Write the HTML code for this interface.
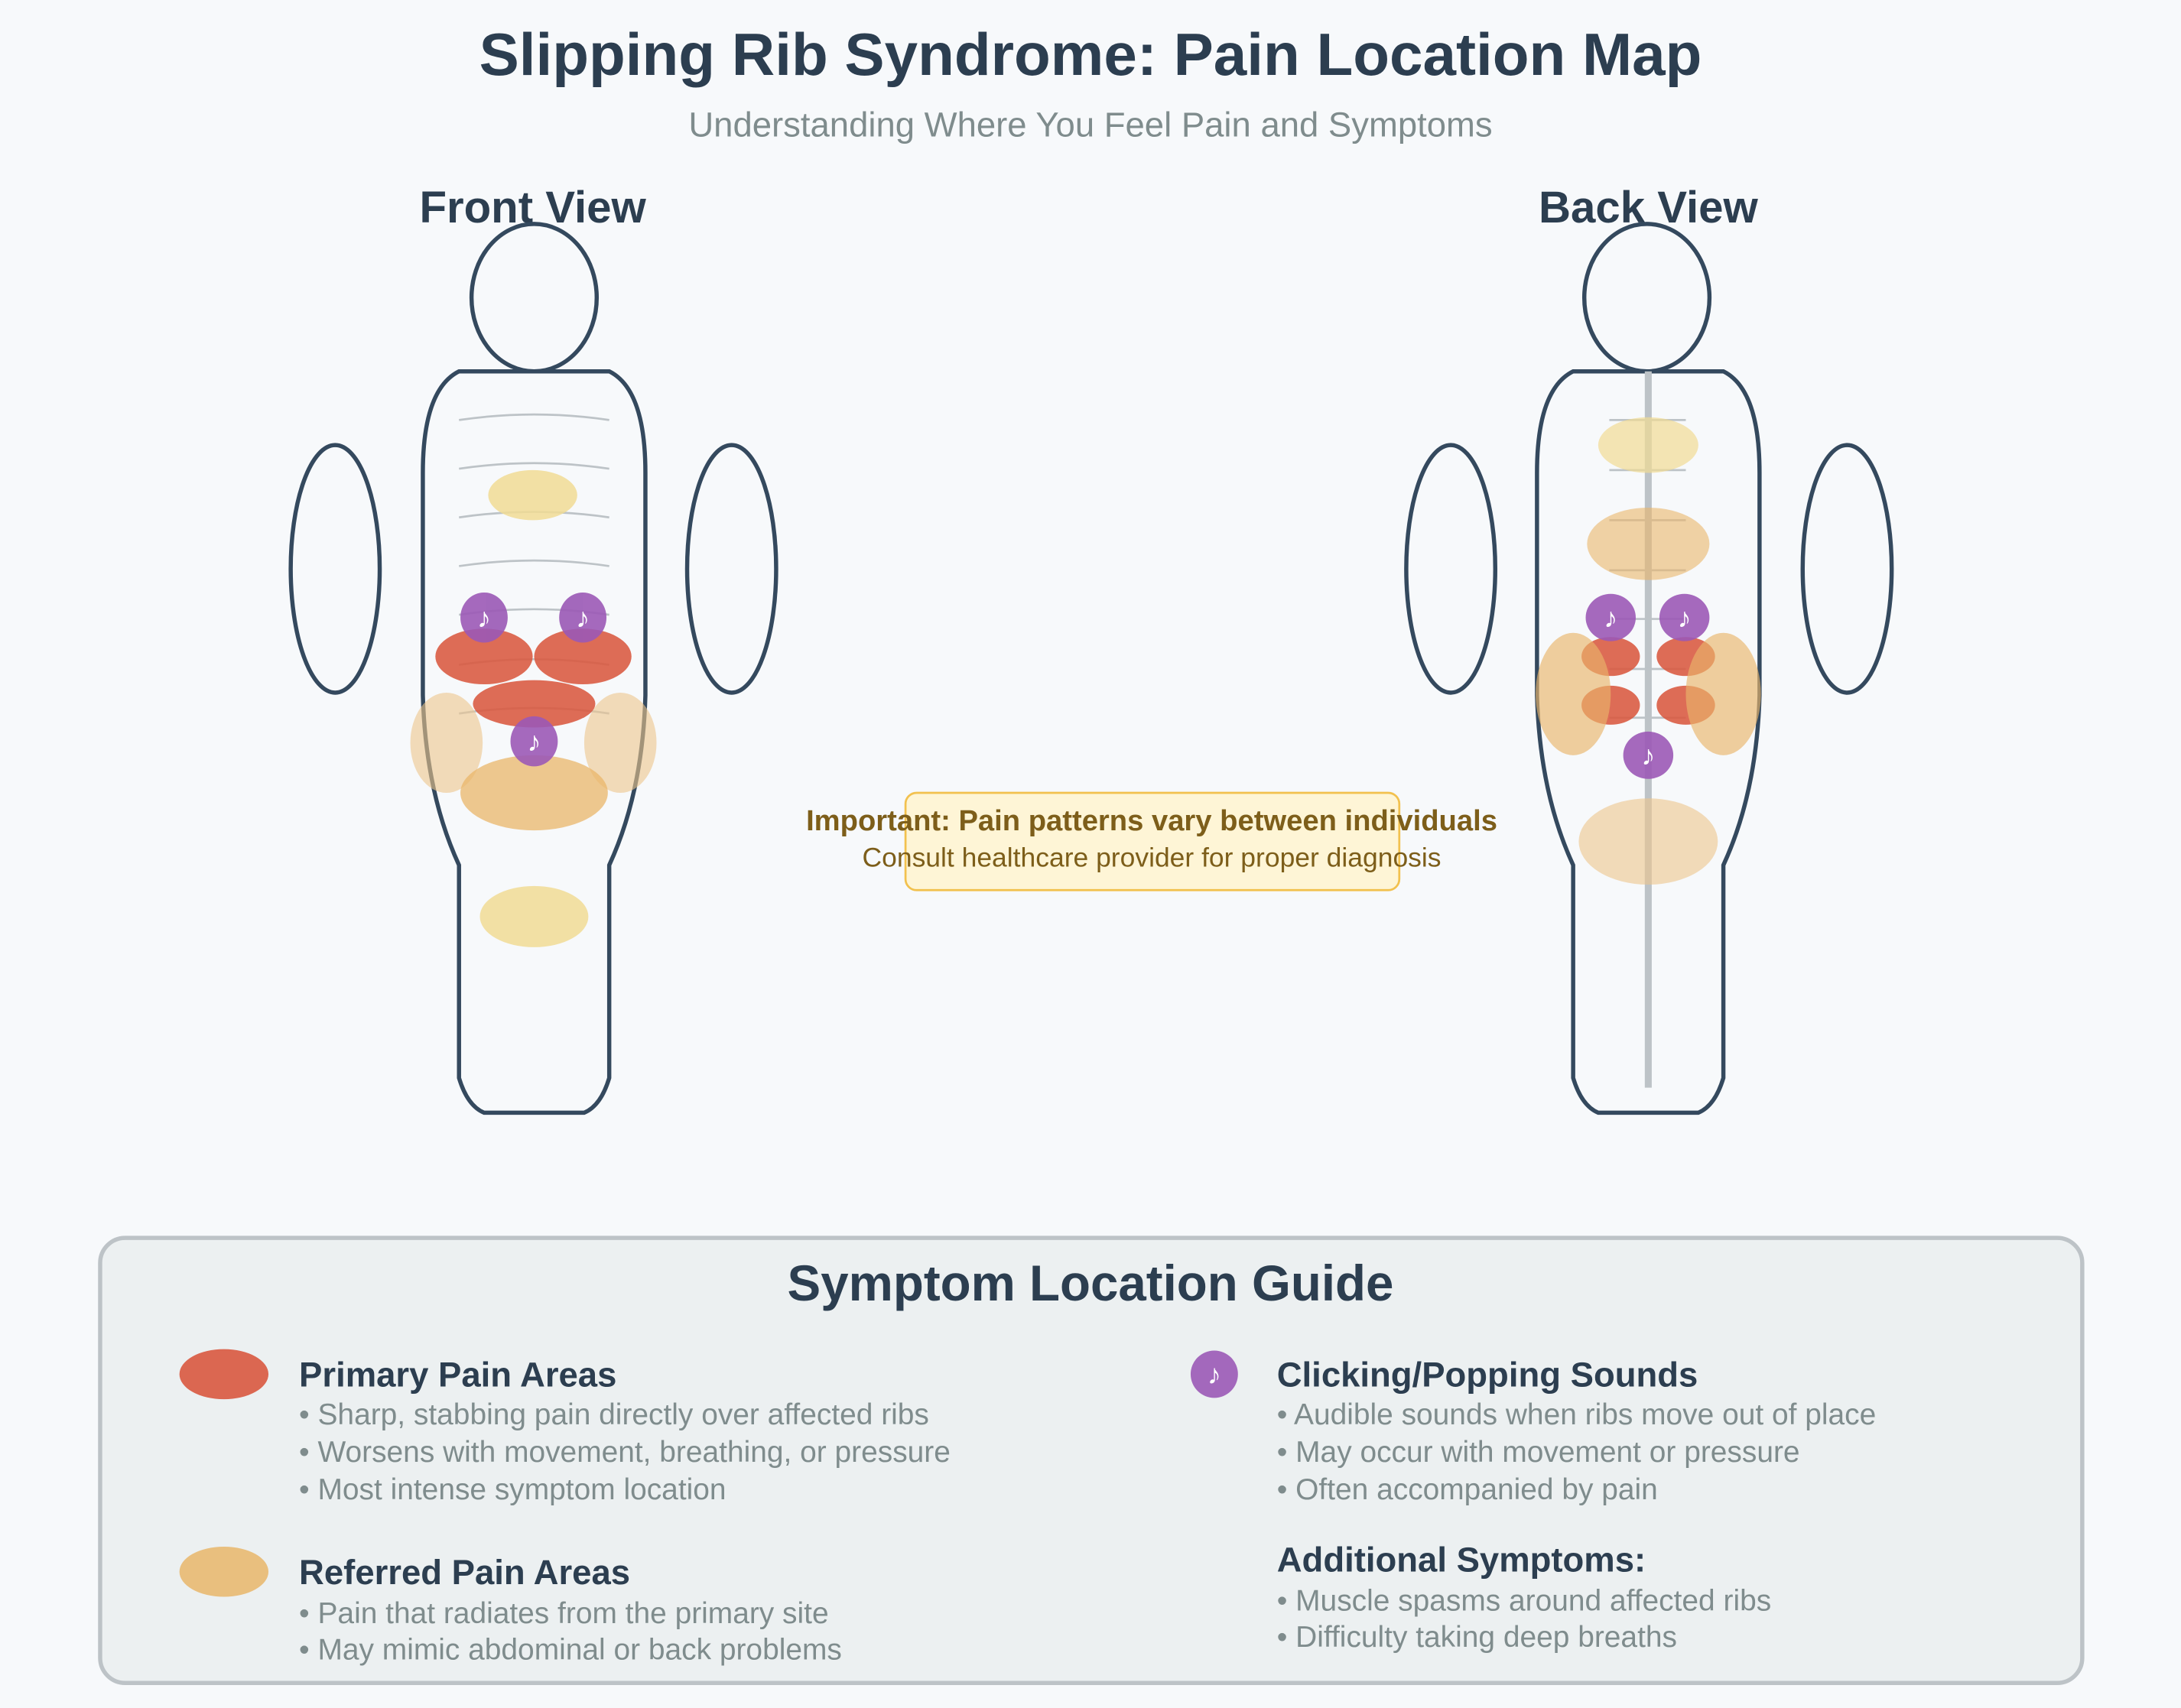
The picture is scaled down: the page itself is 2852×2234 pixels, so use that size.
<!DOCTYPE html>
<html><head><meta charset="utf-8"><style>
html,body{margin:0;padding:0;background:#f7f9fb;}
svg{display:block;}
text{font-family:"Liberation Sans",Arial,sans-serif;}
</style></head><body>
<svg width="2852" height="2234" viewBox="0 0 1568 1228" preserveAspectRatio="none" xmlns="http://www.w3.org/2000/svg">
<rect width="1568" height="1228" fill="#f7f9fb"/>
<text x="784" y="54" text-anchor="middle" font-size="43" font-weight="bold" fill="#2c3e50">Slipping Rib Syndrome: Pain Location Map</text>
<text x="784" y="98" text-anchor="middle" font-size="25" fill="#7f8c8d">Understanding Where You Feel Pain and Symptoms</text>
<text x="383" y="160" text-anchor="middle" font-size="32" font-weight="bold" fill="#2c3e50">Front View</text>
<text x="1185" y="160" text-anchor="middle" font-size="32" font-weight="bold" fill="#2c3e50">Back View</text>

<g id="front">
<ellipse cx="384" cy="214" rx="45" ry="53" fill="none" stroke="#34495e" stroke-width="3"/>
<path d="M330 267 L438 267 Q464 280 464 340 L464 500 Q462 570 438 622 L438 775 Q432 795 420 800 L348 800 Q336 795 330 775 L330 622 Q306 570 304 500 L304 340 Q304 280 330 267 Z" fill="none" stroke="#34495e" stroke-width="3"/>
<ellipse cx="241" cy="409" rx="32" ry="89" fill="none" stroke="#34495e" stroke-width="3"/>
<ellipse cx="526" cy="409" rx="32" ry="89" fill="none" stroke="#34495e" stroke-width="3"/>
<g fill="none" stroke="#bdc3c7" stroke-width="1.5">
<path d="M330 302 Q384 294 438 302"/><path d="M330 337 Q384 329 438 337"/><path d="M330 372 Q384 364 438 372"/><path d="M330 407 Q384 399 438 407"/><path d="M330 442 Q384 434 438 442"/><path d="M330 478 Q384 470 438 478"/><path d="M330 513 Q384 505 438 513"/>
</g>
<ellipse cx="383" cy="356" rx="32" ry="18" fill="#f1dc94" opacity="0.85"/>
<ellipse cx="321" cy="534" rx="26" ry="36" fill="#edc48c" opacity="0.6"/>
<ellipse cx="446" cy="534" rx="26" ry="36" fill="#edc48c" opacity="0.6"/>
<ellipse cx="384" cy="570" rx="53" ry="27" fill="#e9b66a" opacity="0.75"/>
<ellipse cx="348" cy="472" rx="35" ry="20" fill="#d9583f" opacity="0.88"/>
<ellipse cx="419" cy="472" rx="35" ry="20" fill="#d9583f" opacity="0.88"/>
<ellipse cx="384" cy="506" rx="44" ry="17" fill="#d9583f" opacity="0.88"/>
<ellipse cx="384" cy="659" rx="39" ry="22" fill="#f1dc94" opacity="0.85"/>
<g fill="#9b59b6" opacity="0.9"><ellipse cx="348" cy="444" rx="17" ry="18"/><ellipse cx="419" cy="444" rx="17" ry="18"/><ellipse cx="384" cy="533" rx="17" ry="18"/></g>
<g fill="#fff" font-size="20" text-anchor="middle"><text x="348" y="451">♪</text><text x="419" y="451">♪</text><text x="384" y="540">♪</text></g>
</g>

<g id="back">
<ellipse cx="1184" cy="214" rx="45" ry="53" fill="none" stroke="#34495e" stroke-width="3"/>
<path d="M1131 267 L1239 267 Q1265 280 1265 340 L1265 500 Q1263 570 1239 622 L1239 775 Q1233 795 1221 800 L1149 800 Q1137 795 1131 775 L1131 622 Q1107 570 1105 500 L1105 340 Q1105 280 1131 267 Z" fill="none" stroke="#34495e" stroke-width="3"/>
<ellipse cx="1043" cy="409" rx="32" ry="89" fill="none" stroke="#34495e" stroke-width="3"/>
<ellipse cx="1328" cy="409" rx="32" ry="89" fill="none" stroke="#34495e" stroke-width="3"/>
<line x1="1185" y1="267" x2="1185" y2="782" stroke="#bdc3c7" stroke-width="5"/>
<g stroke="#bdc3c7" stroke-width="1.5"><line x1="1157" y1="302" x2="1212" y2="302"/><line x1="1157" y1="338" x2="1212" y2="338"/><line x1="1157" y1="374" x2="1212" y2="374"/><line x1="1157" y1="410" x2="1212" y2="410"/><line x1="1157" y1="445" x2="1212" y2="445"/><line x1="1157" y1="481" x2="1212" y2="481"/><line x1="1157" y1="516" x2="1212" y2="516"/></g>
<ellipse cx="1185" cy="320" rx="36" ry="20" fill="#f1dc94" opacity="0.7"/>
<ellipse cx="1185" cy="391" rx="44" ry="26" fill="#e9b66a" opacity="0.6"/>
<ellipse cx="1158" cy="472" rx="21" ry="14" fill="#d9583f" opacity="0.88"/>
<ellipse cx="1212" cy="472" rx="21" ry="14" fill="#d9583f" opacity="0.88"/>
<ellipse cx="1158" cy="507" rx="21" ry="14" fill="#d9583f" opacity="0.88"/>
<ellipse cx="1212" cy="507" rx="21" ry="14" fill="#d9583f" opacity="0.88"/>
<ellipse cx="1131" cy="499" rx="27" ry="44" fill="#e9b66a" opacity="0.65"/>
<ellipse cx="1239" cy="499" rx="27" ry="44" fill="#e9b66a" opacity="0.65"/>
<ellipse cx="1185" cy="605" rx="50" ry="31" fill="#edc48c" opacity="0.6"/>
<g fill="#9b59b6" opacity="0.9"><ellipse cx="1158" cy="444" rx="18" ry="17"/><ellipse cx="1211" cy="444" rx="18" ry="17"/><ellipse cx="1185" cy="543" rx="18" ry="17"/></g>
<g fill="#fff" font-size="20" text-anchor="middle"><text x="1158" y="451">♪</text><text x="1211" y="451">♪</text><text x="1185" y="550">♪</text></g>
</g>

<rect x="651" y="570" width="355" height="70" rx="8" fill="#fef5d6" stroke="#f2c14e" stroke-width="1.5"/>
<text x="828" y="597" text-anchor="middle" font-size="21" font-weight="bold" fill="#7d5e1a">Important: Pain patterns vary between individuals</text>
<text x="828" y="623" text-anchor="middle" font-size="19.5" fill="#7d5e1a">Consult healthcare provider for proper diagnosis</text>

<rect x="72" y="890" width="1425" height="320" rx="18" fill="#ecf0f1" stroke="#bdc3c7" stroke-width="3"/>
<text x="784" y="935" text-anchor="middle" font-size="36" font-weight="bold" fill="#2c3e50">Symptom Location Guide</text>

<ellipse cx="161" cy="988" rx="32" ry="18" fill="#d9583f" opacity="0.9"/>
<text x="215" y="997" font-size="25" font-weight="bold" fill="#2c3e50">Primary Pain Areas</text>
<g font-size="21.4" fill="#7f8c8d">
<text x="215" y="1024">• Sharp, stabbing pain directly over affected ribs</text>
<text x="215" y="1051">• Worsens with movement, breathing, or pressure</text>
<text x="215" y="1078">• Most intense symptom location</text>
<text x="215" y="1167">• Pain that radiates from the primary site</text>
<text x="215" y="1193">• May mimic abdominal or back problems</text>
<text x="918" y="1024">• Audible sounds when ribs move out of place</text>
<text x="918" y="1051">• May occur with movement or pressure</text>
<text x="918" y="1078">• Often accompanied by pain</text>
<text x="918" y="1158">• Muscle spasms around affected ribs</text>
<text x="918" y="1184">• Difficulty taking deep breaths</text>
</g>
<ellipse cx="161" cy="1130" rx="32" ry="18" fill="#e9b66a" opacity="0.85"/>
<text x="215" y="1139" font-size="25" font-weight="bold" fill="#2c3e50">Referred Pain Areas</text>
<circle cx="873" cy="988" r="17" fill="#9b59b6" opacity="0.9"/>
<text x="873" y="995" text-anchor="middle" font-size="20" fill="#fff">♪</text>
<text x="918" y="997" font-size="25" font-weight="bold" fill="#2c3e50">Clicking/Popping Sounds</text>
<text x="918" y="1130" font-size="25" font-weight="bold" fill="#2c3e50">Additional Symptoms:</text>
</svg>
</body></html>
